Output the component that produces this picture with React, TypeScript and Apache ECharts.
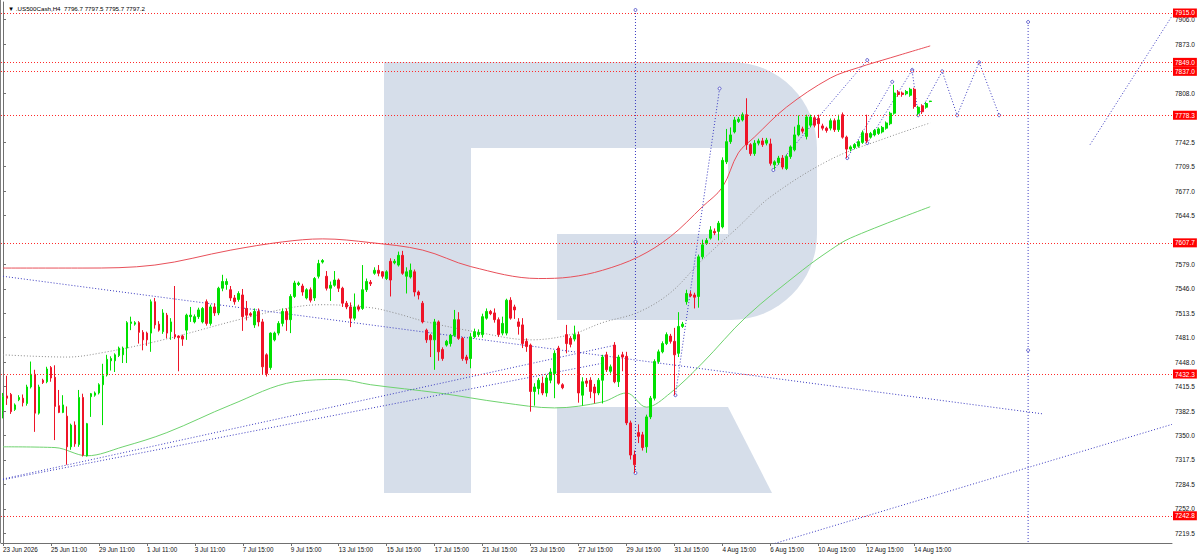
import React, { useEffect, useRef } from "react";
import * as echarts from "echarts";

// ---------- DATA ----------
const titleText = "\u25BC .US500Cash,H4  7796.7 7797.5 7795.7 7797.2";

const xTickLabels = [
  "23 Jun 2026", "25 Jun 11:00", "29 Jun 11:00", "1 Jul 11:00", "3 Jul 11:00",
  "7 Jul 15:00", "9 Jul 15:00", "13 Jul 15:00", "15 Jul 15:00", "17 Jul 15:00",
  "21 Jul 15:00", "23 Jul 15:00", "27 Jul 15:00", "29 Jul 15:00", "31 Jul 15:00",
  "4 Aug 15:00", "6 Aug 15:00", "10 Aug 15:00", "12 Aug 15:00", "14 Aug 15:00",
];
const BARS_PER_LABEL = 12;
const TOTAL_SLOTS = 293; // bars + empty future space on the right

const yTickValues = [
  7219.5, 7252.0, 7284.5, 7317.5, 7350.0, 7382.5, 7415.5, 7448.0, 7481.0, 7513.5,
  7546.0, 7579.0, 7644.5, 7677.0, 7709.5, 7742.5, 7808.0, 7873.0, 7906.0,
];
const yMin = 7206.4;
const yMax = 7929.7;

// [open, close, low, high]
const candles = [
  [7384, 7402, 7373, 7407], [7403, 7400, 7391, 7430], [7405, 7382, 7379, 7407], [7385, 7391, 7383, 7393],
  [7398, 7401, 7396, 7404], [7400, 7394, 7389, 7405], [7393, 7415, 7390, 7418], [7415, 7432, 7413, 7449],
  [7432, 7380, 7355, 7438], [7380, 7415, 7378, 7418], [7424, 7421, 7419, 7426], [7422, 7439, 7420, 7442],
  [7441, 7427, 7422, 7443], [7428, 7389, 7344, 7444], [7390, 7381, 7380, 7411], [7381, 7391, 7380, 7404],
  [7376, 7335, 7311, 7389], [7335, 7364, 7331, 7366], [7364, 7339, 7335, 7369], [7338, 7401, 7335, 7411],
  [7401, 7324, 7322, 7406], [7323, 7366, 7322, 7367], [7402, 7406, 7375, 7407], [7404, 7407, 7402, 7409],
  [7407, 7418, 7405, 7420], [7418, 7430, 7364, 7446], [7431, 7452, 7429, 7458], [7450, 7453, 7437, 7456],
  [7450, 7458, 7435, 7460], [7457, 7467, 7455, 7469], [7458, 7467, 7447, 7469], [7467, 7501, 7447, 7503],
  [7500, 7502, 7491, 7509], [7499, 7501, 7497, 7503], [7501, 7488, 7473, 7503], [7488, 7478, 7464, 7491],
  [7487, 7478, 7470, 7489], [7487, 7529, 7462, 7532], [7529, 7498, 7493, 7534], [7499, 7491, 7489, 7503],
  [7489, 7514, 7486, 7519], [7511, 7487, 7480, 7514], [7489, 7502, 7478, 7507], [7485, 7482, 7479, 7550],
  [7483, 7481, 7436, 7484], [7483, 7479, 7470, 7485], [7491, 7511, 7478, 7513], [7509, 7511, 7502, 7522],
  [7502, 7509, 7500, 7512], [7509, 7518, 7506, 7521], [7502, 7520, 7500, 7522], [7529, 7500, 7497, 7532],
  [7500, 7522, 7497, 7525], [7522, 7514, 7510, 7527], [7514, 7547, 7511, 7549], [7547, 7556, 7543, 7565],
  [7552, 7556, 7545, 7560], [7545, 7534, 7530, 7550], [7534, 7529, 7525, 7538], [7532, 7540, 7529, 7543],
  [7538, 7509, 7490, 7546], [7520, 7511, 7504, 7530], [7513, 7511, 7509, 7515], [7498, 7516, 7494, 7520],
  [7516, 7502, 7496, 7520], [7502, 7442, 7431, 7506], [7458, 7433, 7429, 7460], [7441, 7487, 7438, 7488],
  [7478, 7487, 7476, 7489], [7487, 7500, 7484, 7503], [7500, 7516, 7496, 7520], [7516, 7505, 7490, 7520],
  [7505, 7536, 7487, 7539], [7536, 7554, 7534, 7557], [7552, 7554, 7550, 7556], [7550, 7542, 7537, 7553],
  [7534, 7545, 7532, 7547], [7545, 7531, 7528, 7548], [7534, 7560, 7530, 7562], [7563, 7580, 7560, 7585],
  [7582, 7584, 7580, 7586], [7563, 7547, 7544, 7570], [7547, 7551, 7530, 7556], [7551, 7558, 7549, 7570],
  [7558, 7547, 7542, 7560], [7547, 7527, 7522, 7549], [7527, 7522, 7519, 7530], [7522, 7507, 7495, 7528],
  [7507, 7522, 7504, 7540], [7522, 7519, 7516, 7525], [7520, 7545, 7518, 7578], [7545, 7556, 7542, 7560],
  [7555, 7553, 7550, 7558], [7567, 7571, 7565, 7575], [7571, 7567, 7563, 7578], [7569, 7563, 7560, 7570],
  [7560, 7569, 7558, 7571], [7583, 7558, 7536, 7587], [7581, 7583, 7579, 7586], [7578, 7591, 7576, 7596],
  [7591, 7567, 7565, 7597], [7563, 7569, 7540, 7575], [7562, 7571, 7560, 7580], [7569, 7542, 7536, 7572],
  [7542, 7538, 7532, 7544], [7527, 7502, 7500, 7530], [7491, 7478, 7474, 7493], [7484, 7478, 7455, 7486],
  [7478, 7502, 7438, 7506], [7502, 7462, 7450, 7504], [7465, 7453, 7450, 7468], [7471, 7476, 7469, 7478],
  [7473, 7484, 7469, 7486], [7484, 7505, 7482, 7518], [7505, 7480, 7478, 7515], [7480, 7453, 7450, 7482],
  [7455, 7451, 7446, 7458], [7453, 7482, 7440, 7487], [7482, 7489, 7480, 7493], [7485, 7488, 7482, 7492],
  [7485, 7509, 7481, 7513], [7507, 7516, 7505, 7520], [7516, 7513, 7511, 7518], [7514, 7505, 7501, 7520],
  [7505, 7485, 7482, 7508], [7487, 7500, 7484, 7509], [7487, 7531, 7484, 7533], [7531, 7507, 7505, 7535],
  [7522, 7518, 7506, 7525], [7502, 7496, 7485, 7507], [7498, 7473, 7467, 7507], [7476, 7469, 7462, 7480],
  [7471, 7409, 7382, 7473], [7409, 7415, 7390, 7420], [7413, 7424, 7405, 7427], [7420, 7407, 7404, 7429],
  [7407, 7427, 7402, 7431], [7424, 7435, 7420, 7440], [7433, 7460, 7400, 7464], [7467, 7420, 7418, 7470],
  [7418, 7414, 7412, 7420], [7485, 7473, 7460, 7498], [7480, 7472, 7468, 7483], [7479, 7485, 7476, 7497],
  [7485, 7407, 7394, 7489], [7404, 7422, 7390, 7428], [7423, 7420, 7415, 7427], [7424, 7409, 7400, 7428],
  [7415, 7407, 7393, 7419], [7407, 7424, 7404, 7427], [7424, 7455, 7393, 7458], [7458, 7438, 7435, 7462],
  [7436, 7442, 7433, 7445], [7471, 7422, 7420, 7475], [7422, 7455, 7415, 7458], [7458, 7455, 7436, 7462],
  [7456, 7367, 7364, 7462], [7367, 7324, 7318, 7370], [7324, 7311, 7300, 7330], [7354, 7349, 7340, 7365],
  [7351, 7334, 7330, 7355], [7335, 7375, 7327, 7378], [7375, 7400, 7372, 7403], [7400, 7449, 7397, 7452],
  [7449, 7462, 7446, 7465], [7462, 7473, 7460, 7476], [7473, 7485, 7471, 7488], [7483, 7476, 7473, 7486],
  [7476, 7458, 7404, 7494], [7460, 7496, 7455, 7515], [7496, 7499, 7494, 7502], [7529, 7540, 7525, 7545],
  [7539, 7537, 7535, 7543], [7538, 7535, 7520, 7541], [7536, 7589, 7521, 7592], [7589, 7605, 7586, 7612],
  [7607, 7611, 7605, 7614], [7614, 7625, 7612, 7630], [7623, 7621, 7618, 7627], [7623, 7634, 7611, 7637],
  [7629, 7718, 7627, 7722], [7716, 7743, 7713, 7760], [7743, 7752, 7740, 7762], [7756, 7772, 7754, 7776],
  [7770, 7773, 7768, 7776], [7772, 7779, 7770, 7782], [7779, 7739, 7732, 7801], [7739, 7727, 7724, 7741],
  [7727, 7741, 7724, 7745], [7741, 7744, 7738, 7747], [7744, 7739, 7736, 7748], [7741, 7745, 7738, 7748],
  [7740, 7714, 7711, 7747], [7712, 7716, 7706, 7718], [7715, 7721, 7712, 7724], [7721, 7709, 7706, 7725],
  [7707, 7723, 7705, 7726], [7723, 7736, 7720, 7738], [7732, 7752, 7730, 7763], [7752, 7765, 7750, 7778],
  [7760, 7757, 7754, 7763], [7750, 7776, 7746, 7779], [7765, 7776, 7762, 7779], [7775, 7765, 7762, 7778],
  [7774, 7767, 7748, 7779], [7764, 7761, 7758, 7767], [7761, 7758, 7755, 7763], [7761, 7771, 7758, 7774],
  [7771, 7759, 7756, 7774], [7759, 7772, 7756, 7779], [7779, 7749, 7747, 7782], [7749, 7733, 7721, 7751],
  [7733, 7736, 7730, 7738], [7735, 7739, 7733, 7741], [7737, 7743, 7735, 7745], [7742, 7755, 7740, 7758],
  [7754, 7744, 7741, 7779], [7749, 7754, 7747, 7756], [7752, 7758, 7750, 7760], [7754, 7760, 7752, 7762],
  [7756, 7762, 7754, 7764], [7761, 7768, 7759, 7770], [7767, 7781, 7765, 7783], [7781, 7808, 7779, 7819],
  [7809, 7806, 7803, 7812], [7808, 7806, 7803, 7810], [7807, 7810, 7805, 7812], [7805, 7813, 7803, 7815],
  [7813, 7790, 7787, 7815], [7781, 7789, 7778, 7791], [7791, 7783, 7780, 7793], [7789, 7794, 7787, 7796],
  [7796.7, 7797.2, 7795.7, 7797.5],
];

// Bollinger-style bands read at sample bars: [barIndex, price]
const upperBand = [
  [0, 7574], [20, 7574], [38, 7578], [57, 7598], [70, 7609], [80, 7613], [92, 7608], [105, 7598],
  [117, 7576], [134, 7560], [142, 7562], [150, 7571], [159, 7589], [167, 7616], [175, 7656], [180, 7682],
  [184, 7728], [188, 7749], [196, 7789], [207, 7828], [214, 7842], [222, 7855], [232, 7871],
];
const lowerBand = [
  [0, 7335], [13, 7334], [21, 7323], [30, 7335], [41, 7354], [57, 7391], [73, 7422], [84, 7425],
  [92, 7418], [109, 7407], [125, 7394], [138, 7387], [150, 7395], [156, 7407], [161, 7388], [167, 7407],
  [175, 7447], [186, 7509], [200, 7571], [207, 7598], [212, 7614], [232, 7656],
];
const middleBand = [
  [0, 7458], [16, 7455], [25, 7461], [40, 7478], [59, 7505], [72, 7521], [80, 7525], [92, 7521],
  [98, 7514], [106, 7502], [118, 7489], [132, 7478], [142, 7485], [150, 7501], [159, 7515], [167, 7541],
  [175, 7585], [184, 7629], [192, 7669], [207, 7719], [221, 7748], [232, 7768],
];

const levels = [7915.0, 7849.0, 7837.0, 7778.3, 7607.7, 7432.3, 7242.8];
const lastPrice = 7797.2;

// drawn analysis lines: [barIndex, price]
const trendDown = [[0, 7563], [260.25, 7379]];
const trendUpA = [[0, 7292], [153.25, 7471]];
const trendUpB = [[0, 7291], [150.25, 7447]];
const trendUpLow = [[189.5, 7200], [292.5, 7365]];
const farDiagonal = [[272, 7739], [292.5, 7911]];
const vLineLow = [[158.25, 7919], [158.25, 7609], [158.25, 7300]];
const impulseLine = [[168.25, 7404], [179.3, 7814]];
const channelA = [[192.75, 7705], [216.25, 7852]];
const channelB = [[211.25, 7721], [222.5, 7823]];
const channelC = [[216.25, 7741], [227.5, 7839]];
const forecastPath = [[227.5, 7837], [229, 7778.3], [235, 7837], [238.75, 7778.3], [244.25, 7849], [249.25, 7778.3]];
const vLineFuture = [[256.5, 7903], [256.5, 7464], [256.5, 7206.4]];

// ---------- STYLE ----------
const FONT = '"Liberation Sans", Arial, sans-serif';
const UP = "#00e000";
const DOWN = "#ee1428";
const BLUE = "#3a3ac0";
const LEVEL_RED = "#ff2a2a";
const LOGO = "#d6deea";

const categories = Array.from({ length: TOTAL_SLOTS }, (_, i) =>
  i % BARS_PER_LABEL === 0 && i / BARS_PER_LABEL < xTickLabels.length
    ? xTickLabels[i / BARS_PER_LABEL]
    : "b" + i
);
const isTick = (i: number) => i % BARS_PER_LABEL === 0 && i / BARS_PER_LABEL < xTickLabels.length;

function bandSeries(data: number[][], color: string, type: any, width = 1) {
  return {
    type: "line",
    xAxisIndex: 1,
    yAxisIndex: 0,
    data,
    smooth: 0.35,
    showSymbol: false,
    symbol: "none",
    silent: true,
    lineStyle: { color, width, type },
    z: 3,
  };
}

function blueSeries(data: number[][], markers: boolean, noMarkIdx: number[] = []) {
  return {
    type: "line",
    xAxisIndex: 1,
    yAxisIndex: 0,
    data: data.map((d, i) => (noMarkIdx.includes(i) ? { value: d, symbol: "none" } : { value: d })),
    showSymbol: markers,
    symbol: markers ? "circle" : "none",
    symbolSize: 3,
    silent: true,
    itemStyle: { color: "#ffffff", borderColor: BLUE, borderWidth: 0.8 },
    lineStyle: { color: BLUE, width: 1, type: [1, 2] },
    z: 4,
  };
}

export default function App() {
  const ref = useRef<HTMLDivElement>(null);

  useEffect(() => {
    if (!ref.current) return;
    const chart = echarts.init(ref.current, null, { renderer: "svg" });

    const markData: any[] = levels.map((v) => ({
      yAxis: v,
      lineStyle: { color: LEVEL_RED, type: [1, 2], width: 1 },
      label: { backgroundColor: "#ff0000", color: "#ffffff" },
    }));
    markData.push({
      yAxis: lastPrice,
      lineStyle: { opacity: 0 },
      label: { backgroundColor: "#000000", color: "#ffffff" },
    });

    const option: any = {
      animation: false,
      backgroundColor: "#ffffff",
      title: {
        text: titleText,
        left: 3,
        top: 0,
        textStyle: { fontSize: 6.2, fontWeight: "normal", color: "#000", fontFamily: FONT },
      },
      graphic: [
        { type: "rect", z: 0, silent: true, shape: { x: 384, y: 62, width: 433, height: 258, r: [0, 86, 86, 0] }, style: { fill: LOGO } },
        { type: "rect", z: 0, silent: true, shape: { x: 471, y: 148, width: 257, height: 86 }, style: { fill: "#ffffff" } },
        { type: "rect", z: 0, silent: true, shape: { x: 471, y: 234, width: 86, height: 86 }, style: { fill: "#ffffff" } },
        { type: "rect", z: 0, silent: true, shape: { x: 384, y: 62, width: 87, height: 431 }, style: { fill: LOGO } },
        { type: "polygon", z: 0, silent: true, shape: { points: [[557, 407], [728, 407], [772, 493], [557, 493]] }, style: { fill: LOGO } },
        { type: "line", z: 5, silent: true, shape: { x1: 0.5, y1: 0, x2: 0.5, y2: 543 }, style: { stroke: "#808080", lineWidth: 1 } },
      ],
      grid: { left: 0, right: 28, top: 2, bottom: 12, containLabel: false },
      xAxis: [
        {
          type: "category",
          data: categories,
          boundaryGap: true,
          axisLine: { show: true, lineStyle: { color: "#707070", width: 1 } },
          axisTick: {
            show: true,
            alignWithLabel: true,
            length: 3,
            interval: (i: number) => isTick(i),
            lineStyle: { color: "#707070" },
          },
          axisLabel: {
            interval: (i: number) => isTick(i),
            formatter: (v: string) => (xTickLabels.includes(v) ? v : ""),
            align: "left",
            margin: 3,
            fontSize: 6.3,
            color: "#111",
            fontFamily: FONT,
          },
          splitLine: { show: false },
        },
        {
          type: "value",
          min: -0.5,
          max: TOTAL_SLOTS - 0.5,
          show: false,
          splitLine: { show: false },
        },
      ],
      yAxis: [
        {
          type: "value",
          position: "right",
          min: yMin,
          max: yMax,
          axisLine: { show: true, lineStyle: { color: "#707070", width: 1 } },
          axisTick: { show: true, length: 3, customValues: yTickValues, lineStyle: { color: "#707070" } },
          axisLabel: {
            customValues: yTickValues,
            formatter: (v: number) => v.toFixed(1),
            margin: 3,
            fontSize: 6.5,
            color: "#111",
            fontFamily: FONT,
          },
          splitLine: { show: false },
        },
      ],
      series: [
        {
          type: "candlestick",
          xAxisIndex: 0,
          yAxisIndex: 0,
          data: candles,
          barWidth: 2.2,
          z: 5,
          itemStyle: {
            color: UP,
            color0: DOWN,
            borderColor: UP,
            borderColor0: DOWN,
            borderWidth: 1,
          },
          markLine: {
            silent: true,
            symbol: ["none", "none"],
            precision: 1,
            z: 6,
            label: {
              show: true,
              position: "end",
              distance: 1,
              fontSize: 6.5,
              lineHeight: 7,
              padding: [1, 2, 1, 2],
              fontFamily: FONT,
              formatter: (p: any) => Number(p.value).toFixed(1),
            },
            data: markData,
          },
        },
        bandSeries(upperBand, "#e8505a", "solid"),
        bandSeries(lowerBand, "#6fd36f", "solid"),
        bandSeries(middleBand, "#8c8c8c", [1, 2]),
        blueSeries(trendDown, false),
        blueSeries(trendUpA, false),
        blueSeries(trendUpB, false),
        blueSeries(trendUpLow, false),
        blueSeries(farDiagonal, false),
        blueSeries(vLineLow, true),
        blueSeries(impulseLine, true),
        blueSeries(channelA, true),
        blueSeries(channelB, true),
        blueSeries(channelC, true),
        blueSeries(forecastPath, true),
        blueSeries(vLineFuture, true, [2]),
      ],
    };

    chart.setOption(option);
    return () => chart.dispose();
  }, []);

  return (
    <div
      ref={ref}
      style={{ position: "fixed", left: 0, top: 0, width: 1200, height: 555, background: "#fff" }}
    />
  );
}
